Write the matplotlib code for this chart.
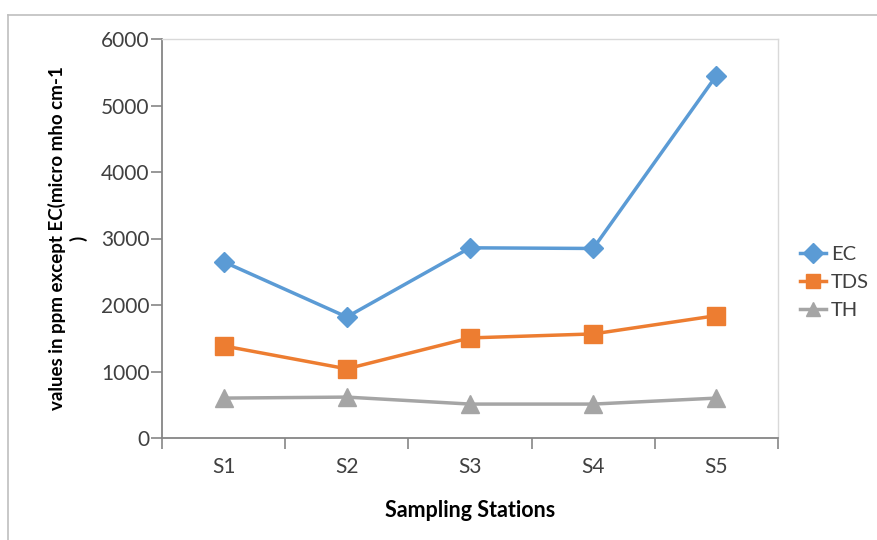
import matplotlib
matplotlib.use("Agg")
import matplotlib.pyplot as plt
from matplotlib.lines import Line2D

stations = ["S1", "S2", "S3", "S4", "S5"]
ec = [2650, 1820, 2860, 2850, 5450]
tds = [1385, 1040, 1505, 1565, 1840]
th = [600, 615, 510, 510, 600]

plt.rcParams["font.family"] = ["Lato", "DejaVu Sans"]

W, H = 878, 540
fig = plt.figure(figsize=(W / 100, H / 100), dpi=100)
ax = fig.add_axes([162 / W, (H - 438) / H, 616 / W, 399 / H])

x = list(range(len(stations)))
ax.plot(x, ec, color="#5B9BD5", lw=2.5, marker="D", ms=10, label="EC")
ax.plot(x, tds, color="#ED7D31", lw=2.5, marker="s", ms=13, label="TDS")
ax.plot(x, th, color="#A5A5A5", lw=2.5, marker="^", ms=13, label="TH")

ax.set_xlim(-0.5, len(stations) - 0.5)
ax.set_ylim(0, 6000)
ax.set_yticks(range(0, 6001, 1000))
ax.set_xticks(x)
ax.set_xticklabels(stations)
ax.set_xticks([i - 0.5 for i in range(len(stations) + 1)], minor=True)
ax.tick_params(axis="x", which="major", length=0, pad=14, labelsize=15, colors="#404040")
ax.tick_params(axis="x", which="minor", length=8, width=1.2, color="#868686", direction="out")
ax.tick_params(axis="y", length=8, width=1.2, color="#868686", labelsize=15,
               labelcolor="#404040", pad=1)

for side in ("left", "bottom"):
    ax.spines[side].set_color("#868686")
    ax.spines[side].set_linewidth(1.3)
for side in ("top", "right"):
    ax.spines[side].set_color("#d9d9d9")
    ax.spines[side].set_linewidth(1.0)

ax.set_xlabel("Sampling Stations", fontsize=15.5, fontweight="bold", labelpad=16)
ax.set_ylabel("values in ppm except EC(micro mho cm-1\n)", fontsize=13.5,
              fontweight="bold", labelpad=10, linespacing=1.2)

leg = ax.legend(loc="center left", bbox_to_anchor=(1.035, 0.39), frameon=False,
                fontsize=14.5, handlelength=1.3, handletextpad=0.25,
                labelspacing=0.55, borderaxespad=0, borderpad=0)
for t in leg.get_texts():
    t.set_color("#404040")
for h in leg.legend_handles:
    h.set_markersize(10)

# outer chart border
fig.add_artist(Line2D([8 / W, 1.0], [1 - 15 / H, 1 - 15 / H], color="#bfbfbf", lw=1.2,
                      transform=fig.transFigure))
fig.add_artist(Line2D([8 / W, 8 / W], [0, 1 - 15 / H], color="#bfbfbf", lw=1.2,
                      transform=fig.transFigure))

fig.savefig("out.png", dpi=100)
